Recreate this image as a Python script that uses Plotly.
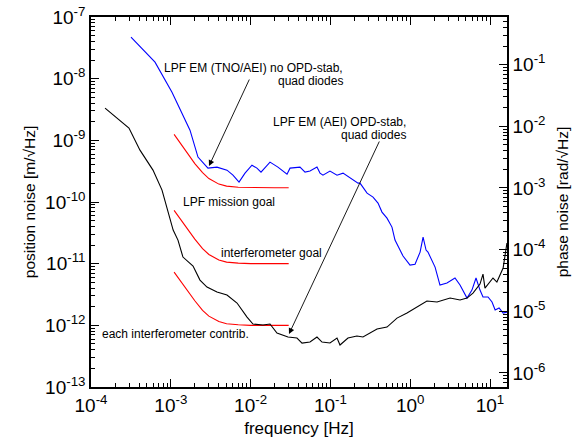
import plotly.graph_objects as go
import math

# ---------------- data ----------------
blue_f = [3.17e-4, 6.34e-4, 1.035e-3, 1.74e-3, 2.19e-3, 2.92e-3, 3.79e-3, 5.06e-3, 6.01e-3, 7.16e-3,
          8.51e-3, 1.04e-2, 1.20e-2, 1.35e-2, 1.75e-2, 2.20e-2, 2.86e-2, 3.12e-2, 4.16e-2, 4.81e-2,
          5.55e-2, 6.79e-2, 7.41e-2, 8.07e-2, 9.88e-2, 0.121, 0.144, 0.176, 0.222, 0.235,
          0.288, 0.342, 0.395, 0.443, 0.512, 0.591, 0.645, 0.724, 0.813, 0.995,
          1.15, 1.33, 1.45, 1.58, 1.67, 2.05, 2.36, 2.89, 3.64, 4.21,
          5.15, 5.94, 6.68, 7.49, 8.17, 9.44, 10.6, 11.6, 13.0, 14.6, 16.3]
blue_x = [4.71e-8, 1.85e-8, 6.04e-9, 1.46e-9, 5.35e-10, 3.54e-10, 3.68e-10, 3.28e-10, 2.72e-10, 2.10e-10,
          2.94e-10, 3.95e-10, 3.54e-10, 3.05e-10, 4.43e-10, 3.68e-10, 2.83e-10, 3.54e-10, 3.68e-10, 3.05e-10,
          3.17e-10, 3.68e-10, 2.94e-10, 2.72e-10, 3.17e-10, 2.72e-10, 2.94e-10, 2.44e-10, 2.02e-10, 2.02e-10,
          1.39e-10, 1.20e-10, 9.6e-11, 6.86e-11, 5.48e-11, 3.92e-11, 2.41e-11, 1.79e-11, 1.33e-11, 9.5e-12,
          9.8e-12, 1.54e-11, 2.70e-11, 1.66e-11, 1.54e-11, 8.8e-12, 4.5e-12, 4.85e-12, 5.85e-12, 4.5e-12,
          2.77e-12, 3.73e-12, 5.85e-12, 3.73e-12, 2.88e-12, 2.88e-12, 2.39e-12, 1.77e-12, 1.91e-12, 1.58e-12, 1.64e-12]

black_f = [1.50e-4, 2.99e-4, 4.11e-4, 5.98e-4, 7.76e-4, 8.96e-4, 1.07e-3, 1.23e-3, 1.42e-3, 1.90e-3,
           2.32e-3, 2.84e-3, 3.79e-3, 5.06e-3, 6.76e-3, 9.02e-3, 1.07e-2, 1.43e-2, 1.75e-2, 2.14e-2,
           2.94e-2, 3.81e-2, 4.41e-2, 5.55e-2, 6.79e-2, 7.85e-2, 9.88e-2, 0.121, 0.132, 0.166,
           0.215, 0.256, 0.313, 0.384, 0.512, 0.683, 0.912, 1.22, 1.62, 2.17,
           3.16, 4.21, 5.15, 6.12, 7.49, 8.17, 8.65, 10.9, 12.2, 14.6, 16.3]
black_x = [3.33e-9, 1.58e-9, 6.93e-10, 3.29e-10, 1.56e-10, 8.26e-11, 3.51e-11, 2.41e-11, 1.28e-11, 9.14e-12,
           5.42e-12, 4.18e-12, 3.47e-12, 3.10e-12, 2.30e-12, 1.36e-12, 1.05e-12, 1.01e-12, 1.05e-12, 7.50e-13,
           6.46e-13, 6.22e-13, 5.16e-13, 5.36e-13, 6.46e-13, 5.36e-13, 5.16e-13, 6.22e-13, 4.80e-13, 6.22e-13,
           6.71e-13, 6.46e-13, 7.50e-13, 8.71e-13, 9.38e-13, 1.31e-12, 1.58e-12, 1.98e-12, 2.48e-12, 2.39e-12,
           2.77e-12, 2.57e-12, 2.77e-12, 3.33e-12, 4.67e-12, 6.78e-12, 4.02e-12, 5.85e-12, 5.04e-12, 8.5e-12, 2.16e-11]

goal_f = [1.1e-3, 1.5e-3, 2e-3, 2.5e-3, 3e-3, 4e-3, 5e-3, 7e-3, 1e-2, 2e-2, 3e-2]
mission_goal = [1.25e-9, 7.0e-10, 4.2e-10, 3.0e-10, 2.4e-10, 1.95e-10, 1.81e-10, 1.73e-10, 1.71e-10, 1.70e-10, 1.70e-10]
ifo_goal = [7.3e-11, 4.1e-11, 2.5e-11, 1.75e-11, 1.41e-11, 1.15e-11, 1.06e-11, 1.02e-11, 1.0e-11, 1.0e-11, 1.0e-11]
each_ifo = [7.3e-12, 4.1e-12, 2.5e-12, 1.75e-12, 1.41e-12, 1.15e-12, 1.06e-12, 1.02e-12, 1.0e-12, 1.0e-12, 1.0e-12]

x_ticks = [1e-4, 1e-3, 1e-2, 1e-1, 1e0, 1e1]
x_ticktext = ["10<sup>-4</sup>", "10<sup>-3</sup>", "10<sup>-2</sup>", "10<sup>-1</sup>", "10<sup>0</sup>", "10<sup>1</sup>"]
y_ticks = [1e-13, 1e-12, 1e-11, 1e-10, 1e-9, 1e-8, 1e-7]
y_ticktext = ["10<sup>-13</sup>", "10<sup>-12</sup>", "10<sup>-11</sup>", "10<sup>-10</sup>", "10<sup>-9</sup>", "10<sup>-8</sup>", "10<sup>-7</sup>"]
y2_ticks = [1e-6, 1e-5, 1e-4, 1e-3, 1e-2, 1e-1]
y2_ticktext = ["10<sup>-6</sup>", "10<sup>-5</sup>", "10<sup>-4</sup>", "10<sup>-3</sup>", "10<sup>-2</sup>", "10<sup>-1</sup>"]

wavelength = 1.064e-6
k_phase = 2 * math.pi / wavelength

# ---------------- figure ----------------
W, H = 576, 446
L, R, T, B = 91, 69, 17, 59
PW, PH = W - L - R, H - T - B

def minor_vals(lo, hi):
    out = []
    for e in range(lo, hi):
        for m in range(2, 10):
            out.append(m * 10.0 ** e)
    return out

FONT = "Liberation Sans, Arial, Helvetica, sans-serif"

fig = go.Figure()
for f, v in [(goal_f, mission_goal), (goal_f, ifo_goal), (goal_f, each_ifo)]:
    fig.add_trace(go.Scatter(x=f, y=v, mode="lines", line=dict(color="#ff0000", width=1.1),
                             showlegend=False, hoverinfo="skip"))
fig.add_trace(go.Scatter(x=blue_f, y=blue_x, mode="lines", line=dict(color="#0000ff", width=1.1),
                         showlegend=False))
fig.add_trace(go.Scatter(x=black_f, y=black_x, mode="lines", line=dict(color="#000000", width=1.1),
                         showlegend=False))
# phase axis carrier (no visible data)
fig.add_trace(go.Scatter(x=[None], y=[None], yaxis="y2", mode="lines", showlegend=False, hoverinfo="skip"))

tickfont = dict(family=FONT, size=19, color="black")
axis_common = dict(type="log", showgrid=False, zeroline=False, showline=True, linecolor="black",
                   linewidth=1.5, ticks="inside", ticklen=8, tickwidth=1, tickcolor="black",
                   tickfont=tickfont, automargin=False)

fig.update_layout(
    width=W, height=H,
    margin=dict(l=L, r=R, t=T, b=B, pad=0, autoexpand=False),
    paper_bgcolor="white", plot_bgcolor="white",
    showlegend=False,
    xaxis=dict(**axis_common, range=[-4, 1.213], tickvals=x_ticks, ticktext=x_ticktext, mirror="ticks",
               minor=dict(tickvals=minor_vals(-4, 2), ticks="inside", ticklen=4, tickcolor="black", tickwidth=1),
               title=dict(text="frequency [Hz]", font=dict(family=FONT, size=17, color="black"), standoff=8)),
    yaxis=dict(**axis_common, range=[-13, -7], tickvals=y_ticks, ticktext=y_ticktext,
               minor=dict(tickvals=minor_vals(-13, -7), ticks="inside", ticklen=4, tickcolor="black", tickwidth=1),
               title=dict(text="position noise [m/\u221aHz]", font=dict(family=FONT, size=15.5, color="black"), standoff=6)),
    yaxis2=dict(**axis_common, overlaying="y", side="right",
                range=[math.log10(1e-13 * k_phase), math.log10(1e-7 * k_phase)],
                tickvals=y2_ticks, ticktext=y2_ticktext,
                minor=dict(tickvals=minor_vals(-7, 0), ticks="inside", ticklen=4, tickcolor="black", tickwidth=1),
                title=dict(text="phase noise [rad/\u221aHz]", font=dict(family=FONT, size=15.5, color="black"), standoff=13)),
)

def px2paper(px, py):
    return (px - L) / PW, (T + PH - py) / PH

def px2data(px, py):
    return -4 + (px - L) / PW * 5.213, -13 + (T + PH - py) / PH * 6

texts = [
    ("LPF EM (TNO/AEI) no OPD-stab,", 345, 68, "right"),
    ("quad diodes", 345, 81, "right"),
    ("LPF EM (AEI) OPD-stab,", 408, 122, "right"),
    ("quad diodes", 408, 135, "right"),
    ("LPF mission goal", 181, 202, "left"),
    ("interferometer goal", 219, 253, "left"),
    ("each interferometer contrib.", 100, 334, "left"),
]
for t, px, py, anc in texts:
    xp, yp = px2paper(px, py)
    fig.add_annotation(text=t, x=xp, y=yp, xref="paper", yref="paper", xanchor=anc, yanchor="middle",
                       showarrow=False, font=dict(family=FONT, size=12, color="black"))

arrows = [((209, 166), (250, 78)), ((289, 334), (380, 140))]
for (hx, hy), (tx, ty) in arrows:
    x1, y1 = px2data(hx, hy)
    x0, y0 = px2data(tx, ty)
    fig.add_annotation(x=x1, y=y1, ax=x0, ay=y0, xref="x", yref="y", axref="x", ayref="y",
                       text="", showarrow=True, arrowhead=2, arrowsize=1.3, arrowwidth=0.9,
                       arrowcolor="black", standoff=0)

fig.write_html("out.html", config={"displayModeBar": False},
               post_script="document.body.style.margin='0px';document.body.style.overflow='hidden';")
